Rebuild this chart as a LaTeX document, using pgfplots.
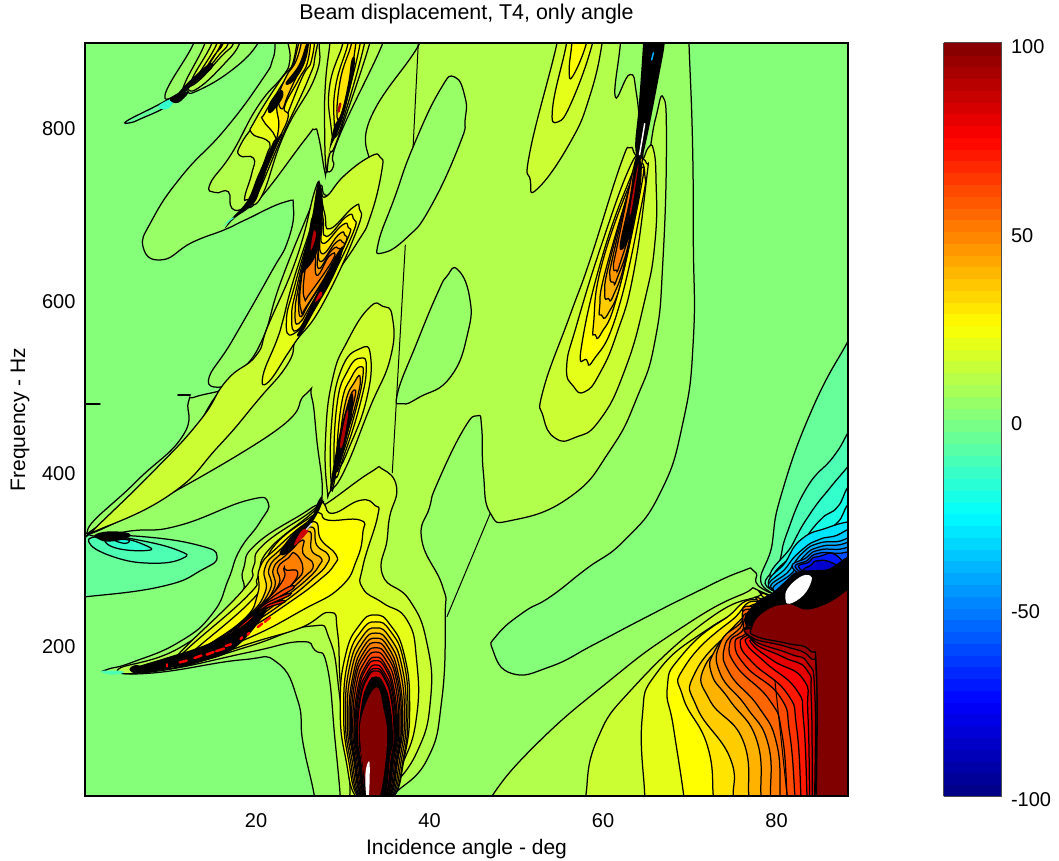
\documentclass[border=0pt]{standalone}
\usepackage{pgfplots}
\pgfplotsset{compat=1.18}
\usepackage{fontspec}
\setmainfont{Liberation Sans}
\definecolor{L0}{rgb}{.52,1,.48}\definecolor{L5}{rgb}{.6,1,.4}\definecolor{L10}{rgb}{.7,1,.3}\definecolor{L15}{rgb}{.8,1,.2}\definecolor{L20}{rgb}{.9,1,.1}
\definecolor{L25}{rgb}{1,1,0}\definecolor{L30}{rgb}{1,.9,0}\definecolor{L35}{rgb}{1,.8,0}\definecolor{L40}{rgb}{1,.7,0}\definecolor{L45}{rgb}{1,.6,0}
\definecolor{L50}{rgb}{1,.5,0}\definecolor{L55}{rgb}{1,.4,0}\definecolor{L60}{rgb}{1,.3,0}\definecolor{L65}{rgb}{1,.2,0}\definecolor{L70}{rgb}{1,.1,0}
\definecolor{L75}{rgb}{1,0,0}\definecolor{L80}{rgb}{.9,0,0}\definecolor{L85}{rgb}{.8,0,0}\definecolor{L90}{rgb}{.7,0,0}\definecolor{L95}{rgb}{.6,0,0}\definecolor{L100}{rgb}{.5,0,0}
\definecolor{Lm5}{rgb}{.4,1,.6}\definecolor{Lm10}{rgb}{.3,1,.7}\definecolor{Lm15}{rgb}{.2,1,.8}\definecolor{Lm20}{rgb}{.1,1,.9}\definecolor{Lm25}{rgb}{0,1,1}
\definecolor{Lm30}{rgb}{0,.9,1}\definecolor{Lm35}{rgb}{0,.8,1}\definecolor{Lm40}{rgb}{0,.7,1}\definecolor{Lm45}{rgb}{0,.6,1}\definecolor{Lm50}{rgb}{0,.5,1}
\definecolor{Lm60}{rgb}{0,.3,1}\definecolor{Lm70}{rgb}{0,.1,1}\definecolor{Lm85}{rgb}{0,0,.8}
\newcommand\CT[2]{\addplot[smooth cycle,tension=.85,fill=#1,draw=black,line width=1.25pt,forget plot] coordinates {#2};}
\newcommand\KT[2]{\addplot[smooth cycle,tension=.7,fill=#1,draw=none,forget plot] coordinates {#2};}
\newcommand\LN[3]{\addplot[sharp plot,draw=#1,line width=#2,line cap=round,forget plot] coordinates {#3};}
\begin{document}
\begin{tikzpicture}
\path[use as bounding box] (0,0) rectangle (1059pt,861pt);
\begin{axis}[at={(85pt,65pt)},anchor=south west,scale only axis,width=763pt,height=753pt,
 xmin=0.28,xmax=88.23,ymin=25,ymax=898.5,xtick={20,40,60,80},ytick={200,400,600,800},
 major tick length=0pt,axis line style={line width=1.2pt},axis on top,
 tick label style={font=\fontsize{20}{22}\selectfont},/pgf/number format/assume math mode=true,
 xlabel={Incidence angle - deg},ylabel={Frequency - Hz},title={Beam displacement, T4, only angle},
 label style={font=\fontsize{21}{24}\selectfont},title style={font=\fontsize{21.4}{24}\selectfont,at={(axis description cs:.5,1.04)},anchor=center,yshift=-7pt},
 xlabel style={at={(axis description cs:.5,-.071)},anchor=center},
 ylabel style={at={(axis description cs:-.085,.5)},anchor=center},
 xticklabel style={yshift=-14pt},yticklabel style={xshift=-6pt,yshift=-1pt},
 axis background/.style={fill=L0},
 colormap/jet,point meta min=-100,point meta max=100,colorbar sampled,
 colorbar style={samples=65,at={(parent axis.north east)},anchor=north west,xshift=87pt,scale only axis,width=58pt,height=753pt,
  major tick length=0pt,ytick={-100,-50,0,50,100},axis line style={line width=1pt,draw=black!70},
  yticklabel style={font=\fontsize{20}{22}\selectfont,xshift=6pt,yshift=-4pt},/pgf/number format/assume math mode=true},
]
% ---- level 5 region
\CT{L5}{(0.5,330)(6.0,388)(11.5,442)(12.2,482)(13.0,488)(16.4,498)(14.5,507)(17.3,554)(21.6,630)(23.7,670)(24.3,708)(23.3,714)(18.7,693)(16.4,682)(12.6,667)(9.2,647)(7.0,661)(8.0,693)(11.5,745)(16.4,798)(20.7,856)(21.9,879)(22.2,899)(22.2,925)(69.9,925)(69.9,899)(70.3,786)(70.4,670)(70.4,554)(69.2,458)(66.6,377)(62.5,322)(58,288)(53.9,256)(50.8,238)(47.8,212)(47.3,194)(49.5,167)(53.9,175)(59,201)(64.3,229)(70,258)(75.8,285)(77.5,285)(79.2,261)(89.6,229)(89.6,9)(26.7,9)(26.7,26)(25.4,87)(24.8,136)(22.4,180)(18.4,183)(8.4,168)(3.2,169)(2.9,172)(5.7,180)(11.2,204)(15.0,237)(16.8,276)(18.1,310)(20.4,342)(21.4,365)(19.0,368)(11.2,339)(6.0,333)}
% ---- level 10, centre
\CT{L10}{(35.8,9)(35.8,25)(39.7,67)(41.4,136)(41.8,233)(41.5,268)(39.1,322)(40,360)(40.9,388)(43.9,450)(45.5,466)(46.0,453)(46.2,400)(47.0,353)(49.6,345)(56.2,372)(60.8,426)(63.9,487)(66.0,554)(66.9,647)(67.3,786)(66.9,836)(66.0,809)(64.8,757)(63.9,836)(63.1,862)(61.4,836)(62.0,899)(62,925)(38.9,925)(38.9,899)(33.1,809)(32.8,748)(28.5,722)(27.4,733)(26.3,708)(22.8,620)(20.7,554)(18.1,516)(15.3,488)(9.8,400)(1.1,330)(20.7,438)(25.6,490)(26.4,488)(27.0,438)(27.6,372)(26.2,358)(20.1,318)(18.5,287)(17.8,252)(11.2,197)(4.1,172)(8.7,170)(19.3,192)(25.1,204)(26.8,194)(28.2,175)(29.1,90)(29.7,25)(29.7,9)}
% ---- level 10, upper left
\CT{L10}{(23.9,914)(34.6,914)(34.6,898)(29.5,788)(28.9,755)(28.1,749)(27.9,750)(27.2,790)(26.7,798)(25.6,786)(20.6,720)(18.7,707)(17.2,707)(16.8,726)(15.3,725)(14.7,735)(17.2,770.5)(20.2,825)(23,859)(24.3,879)(23.9,898)}
% ---- holes
\CT{L5}{(42.9,859)(44.1,835)(44.1,810)(43.5,782)(40.1,708)(37.4,673)(34.6,655)(34.1,667)(36,720)(38.1,778)(41.2,844)}
\CT{L5}{(43.2,636)(44.6,604)(44.4,562)(42.4,511)(38.9,488)(36.9,480)(36.3,492)(38.5,550)(40.9,608)(42,628)}
% ---- top centre lobes
\CT{L15}{(54.7,920)(54.7,899)(51.6,774)(51.6,740)(52.4,729)(56.2,783)(58.5,838)(59.9,899)(59.9,920)}
\CT{L20}{(55.8,920)(55.8,899)(54.2,825)(54.8,807)(56.5,833)(58.8,899)(58.8,920)}
\CT{L25}{(56.4,920)(56.4,899)(56.1,868)(56.5,860)(58.1,899)(58.1,920)}
% ---- lower right
\CT{L10}{(47.2,25)(52.4,86)(60.4,156)(68.1,214)(75.8,258)(79.2,258)(89.6,206)(89.6,9)(47.2,9)}
\CT{L15}{(58,25)(59.3,90)(63.5,151)(72,229)(77.7,256)(79.2,254)(89.6,194)(89.6,9)(58,9)}
\CT{L20}{(64.8,25)(64.5,115)(66.2,168)(72,218)(78.5,252)(79.2,251)(89.6,190)(89.6,9)(64.8,9)}
\CT{L25}{(69.3,25)(68.1,105)(67.4,151)(68.9,186)(73.8,229)(79.2,250)(89.6,190)(89.6,9)(69.3,9)}
\CT{L30}{(72.7,25)(72,84)(69.2,140)(69.4,175)(74.6,227)(79.2,248)(89.6,190)(89.6,9)(72.7,9)}
\CT{L35}{(75,25)(74.6,70)(70.8,128)(70.6,168)(75.2,220)(79.2,246)(89.6,190)(89.6,9)(75,9)}
\CT{L40}{(76.8,25)(76.1,90)(72.3,136)(71.7,175)(75.8,215)(79.2,243)(89.6,190)(89.6,9)(76.8,9)}
\CT{L45}{(78.2,26)(77.7,90)(74.6,136)(72.5,167)(72.9,194)(75.4,225)(77.7,245)(79,250)(89.6,190)(89.6,9)(78.2,9)}
\CT{L50}{(79.3,26)(79,86)(76.5,128.6)(73.5,167)(73.5,202)(75.8,225)(78,243)(89.6,190)(89.6,9)(79.3,9)}
\CT{L55}{(80.4,26)(80,86)(77.9,128.6)(74.6,167)(74,198)(75.8,220)(78,240)(89.6,190)(89.6,9)(80.4,9)}
\CT{L60}{(81.2,26)(80.6,98)(79.2,136)(75.4,175)(74.6,202)(76,216)(78,236)(89.6,190)(89.6,9)(81.2,9)}
\CT{L65}{(82.1,26)(81.5,98)(80.4,140)(76.5,175)(75.2,202)(76.5,214)(78,232)(89.6,190)(89.6,9)(82.1,9)}
\CT{L70}{(82.8,26)(82.3,105)(81.2,144)(77.3,179)(75.8,202)(76.9,214)(78,228)(89.6,190)(89.6,9)(82.8,9)}
\CT{L75}{(83.5,26)(83.1,113)(82.3,148)(78.8,179)(76.5,202)(77.1,212)(78,226)(89.6,190)(89.6,9)(83.5,9)}
\CT{L80}{(83.8,26)(83.6,121)(83.1,160)(79.6,182)(77.1,202)(77.5,210)(78,224)(89.6,190)(89.6,9)(83.8,9)}
\CT{L85}{(84.1,26)(84,136)(83.5,171)(80.8,186)(77.3,204)(78,222)(89.6,190)(89.6,9)(84.1,9)}
\CT{L90}{(84.4,26)(84.4,144)(83.6,179)(81.5,190)(77.3,206)(78,220)(89.6,190)(89.6,9)(84.4,9)}
\CT{L95}{(84.5,26)(84.6,160)(83.8,186)(81.2,198)(77.3,208)(78,218)(89.6,190)(89.6,9)(84.5,9)}
% ---- upper right negative fan
\CT{Lm5}{(79.2,262)(79.5,318)(80.7,380)(84.2,476)(88.2,552)(89.6,577)(89.6,258)}
\CT{Lm10}{(79.5,264)(80.4,299)(81.2,330)(83.5,383)(86.5,418)(88.2,446)(89.6,473)(89.6,258)}
\CT{Lm15}{(79.8,270)(81.9,318)(83.9,353)(86.2,383)(88.2,407)(89.6,426)(89.6,258)}
\CT{Lm20}{(80,270)(82.7,314)(85,345)(87,360)(88.2,383)(89.6,400)(89.6,258)}
\CT{Lm25}{(80.3,270)(83,310)(85,330)(87,342)(88.2,363)(89.6,380)(89.6,258)}
\CT{Lm30}{(79.8,264)(81.2,299)(83,324)(85.8,336)(88.2,343)(90,345)(90,252)}
\CT{Lm35}{(79.8,262)(81.2,291)(83.1,312)(84.8,322)(86.5,326)(90,330)(90,252)}
\CT{Lm40}{(80,262)(81.5,287)(83.1,308)(84.8,318)(86.9,320)(90,320)(90,252)}
\CT{Lm45}{(80.2,260)(81.9,285)(83.3,304.6)(84.8,313.5)(86.9,316)(90,314)(90,252)}
\CT{Lm50}{(82.3,285)(83.5,302)(84.8,310)(86.9,311)(90,308.4)(90,252)}
\CT{Lm60}{(82.7,285)(83.6,298.8)(84.8,306.5)(86.9,306.5)(90,302.6)(90,252)}
\CT{Lm70}{(83.1,285)(83.8,297)(84.8,302.6)(87.3,300.7)(90,252)}
\CT{Lm85}{(83.5,285)(84,293)(84.8,298)(86.5,295)(88.8,279)}
\KT{black}{(79.4,260)(81.2,276)(82.3,285)(84.2,287)(86.1,289)(88.25,303)(89.6,305)(89.6,264)(84.2,243)(81.2,248)(78.5,239)(77.3,222)(76.3,232)(77.9,252)}
\CT{L100}{(84.6,26)(84.6,167)(83.8,194)(81.2,202)(77.7,210)(77.1,220)(78.5,239)(81.2,248)(84.2,243)(88.3,266)(90,290)(90,10)(84.6,10)}
\KT{white}{(81,254)(81.3,266)(82.7,279)(83.8,281)(84,274)(83.1,258)(81.5,248)}
% ---- left negative blob
\CT{Lm5}{(.28,256)(9.1,268)(13.7,287)(15.5,303)(13.3,316)(6.8,326)(1.8,326)(-1,326)(-1,256)}
\CT{Lm10}{(.7,320)(3.4,303)(8,295)(11.6,301)(11,310)(6.4,322)(2.6,326)}
\CT{Lm15}{(2.6,322)(4.1,312)(7.6,310)(7.2,316)(4.5,324)}
\CT{Lm20}{(3.7,322)(4.9,318)(5.3,322)}
% ---- fan and ridge near 600 Hz
\CT{L15}{(1.2,333)(8.2,402)(13.5,460)(16.6,507)(20,536)(21.4,571)(24.7,650)(26.8,728)(27.4,732)(28,720)(30.2,745)(33.2,767)(34.3,766)(34.5,751)(33.2,698)(31.6,666)(27.8,610)(24.8,560)(23.7,527)(20.2,484)(15.7,431)(10,374)(1.2,331)}
\CT{L20}{(27.2,728)(26.8,701)(24.3,623)(23.1,577)(22.4,554)(20.8,513)(21.4,505)(23.7,539)(24.7,554)(27.7,596)(31.6,681)(31.9,706)(31.2,708)(28.5,683)(27.9,701)}
\CT{L25}{(27.2,724)(26.6,693)(24.5,619)(23.5,577)(24.3,561)(27,596)(31,674)(31.2,695)(30.4,697)(28.1,674)(27.7,697)}
\CT{L30}{(27.1,716)(26.4,685)(24.7,616)(24.1,581)(24.7,565)(26.6,596)(30.4,668)(30.6,685)(29.9,687)(27.7,666)(27.6,693)}
\CT{L35}{(26.8,705)(26.2,677)(24.9,616)(24.5,585)(24.9,573)(26.4,596)(30,660)(30.2,676)(29.5,676)(27.6,654)(27.3,685)}
\CT{L40}{(26.6,697)(26,670)(25.1,619)(24.9,596)(25.2,581)(26.2,598)(29.7,654)(29.9,668)(29.1,666)(27.4,645)(27.2,674)}
\CT{L45}{(26.4,685)(25.2,623)(25.2,588)(26,596)(29.3,650)(29.5,660)(28.7,658)(27.2,637)(27.1,666)}
\CT{L50}{(26.2,662)(25.5,623)(25.6,602)(26.2,608)(28.9,648)(28.4,651)(27,629)(26.8,658)}
\KT{black}{(27.2,738)(26.4,693)(25.4,639)(25.7,635)(27.1,658)(27.7,705)}
\KT{black}{(29.7,660)(28.5,639)(26.6,600)(25.2,569)(24.7,560)(25.2,561)(26.8,589)(28.9,627)(30,658)}
\KT{L90}{(26.6,679)(26.3,658)(26.8,670)(26.9,679)}
\KT{L85}{(27.4,610)(26.8,598)(27.6,606)}
% ---- upper ridge 2
\CT{L15}{(23.9,914)(27.3,914)(27.3,898)(26.8,859)(23.3,794)(20.6,720)(19.1,717)(18.7,720)(19.5,747)(19.7,765)(18.1,768)(18.3,782)(20.4,813)(23,857)(23.9,879)}
\CT{L20}{(24.9,914)(27,914)(26.8,883)(26,856)(23,790)(20.2,724)(19.7,722)(21.2,768)(21.6,778)(21.2,786)(19.5,794)(19.9,809)(22.7,854)(24.5,879)}
\CT{L25}{(25.2,914)(26.6,914)(26.4,879)(25.2,856)(22.6,790)(20,728)(21.8,778)(22.2,790)(20.8,809)(21,817)(22.6,844)(24.1,871)}
\CT{L30}{(25.4,914)(26.2,914)(26,879)(24.9,856)(23.3,825)(23.7,813)(22.6,786)(20.6,739.5)(21.8,770.5)(22.6,800)(22.4,825)(23,844)(24.1,867)}
\CT{L35}{(25.6,914)(26,914)(25.6,879)(24.5,856)(23.6,836)(23,822)(22.6,836)(23.5,860)(24.7,880)}
\KT{black}{(21.6,830)(22.8,844)(23.1,836)(22,820)(21.4,818)}
\KT{black}{(23.4,852)(24.9,873)(25.8,898)(26.1,898)(25.6,875)(24.3,854)}
\KT{black}{(22.6,790)(23,792)(21.8,768)(20.6,733)(19.7,712)(17.5,695)(16.4,683)(17.2,695)(19,716)(20.2,745)(21.6,775)}
\KT{Lm15}{(16.2,686)(17,694)(17.5,696)(16.6,689)}
% ---- ridge 3
\CT{L15}{(28.5,914)(28.5,898)(28,852)(27.9,800)(28.1,750)(28.5,770)(29.5,790)(33.1,898)(33.1,914)}
\CT{L20}{(30,914)(30,898)(28.5,850)(28.6,805)(29.2,790)(30.5,825)(32.5,898)(32.5,914)}
\CT{L25}{(30.6,914)(30.6,898)(29.2,850)(29,808)(29.4,800)(30.5,835)(32,898)(32,914)}
\CT{L30}{(31,914)(31,898)(29.7,855)(29.4,810)(30.5,840)(31.5,898)(31.5,914)}
\KT{black}{(30.6,852)(29.8,817)(28.9,798)(28.1,753)(28.5,775)(29.8,805)(31,852)(31.4,879)(31,879)}
\LN{L90}{2.5pt}{(29.7,828)(29.5,819)}
% ---- top left wedge
\CT{Lm5}{(5.1,808)(8,823)(11,838)(9.7,825)(6.8,811)(5.5,806)}
\CT{L5}{(12.8,898)(9.5,838)(11.8,843)(13,842)(17.2,867)(20.2,898)(20.2,914)(12.8,914)}
\CT{L10}{(14.1,898)(11.8,852)(12,846)(13.3,846)(16.4,875)(18.1,898)(18.1,914)(14.1,914)}
\CT{L15}{(14.9,898)(12.6,856)(13.3,854)(16,883)(17.4,898)(17.4,914)(14.9,914)}
\CT{L20}{(15.5,898)(13.1,857)(13.7,859)(15.6,883)(16.8,898)(16.8,914)(15.5,914)}
\CT{L30}{(16,898)(13.7,861)(15.1,883)(16.2,898)(16.2,914)(16,914)}
\KT{black}{(11.4,838)(13.3,856)(14.9,869)(14.7,875)(12.8,859)(11,840)}
\KT{Lm15}{(8.9,827)(10.5,834)(10,823)(9.1,822)}
\KT{black}{(10.1,834)(12.2,842)(11,829)}
% ---- ridge 5 near 450 Hz
\CT{L15}{(28.2,380)(28,438)(28.8,508)(30.6,554)(33.1,592)(34.6,593)(35.7,581)(35.5,534)(33.1,475)(30.3,405)(28.6,379)}
\CT{L20}{(28.7,384)(28.7,457)(29.8,519)(32,544)(33.2,535)(32.7,484)(30.6,426)(29.3,399)}
\CT{L25}{(29.1,399)(29.3,477)(30.6,519)(32.1,533)(32.7,521)(32,480)(30.2,422)}
\CT{L30}{(29.3,407)(29.8,477)(31,511)(32.1,523)(32.3,511)(31.6,477)(30,422)}
\CT{L40}{(29.5,415)(30.2,477)(31.4,506)(32,510)(31.6,484)(30,430)}
\CT{L50}{(29.7,422)(30.6,479)(31.4,496)(31.2,479)(30,438)}
\KT{black}{(28.5,380)(29.1,419)(29.8,453)(30.8,488)(31.2,488)(31,465)(30.2,430)(29.5,407)(28.9,388)}
\KT{L90}{(29.7,434)(30.4,469)(30.6,467)(30,433)}
% ---- ridge 7 at right
\CT{L15}{(53.1,465)(54.5,440)(56.8,441)(59.6,461)(62.5,519)(64.8,600)(66,670)(66.1,740)(65.8,775)(65.2,777)(64.5,763)(63.7,769)(63.1,777)(62,757)(58.5,647)(56.2,583)(53.1,496)}
\CT{L20}{(55.8,523)(56.6,500)(57.9,494)(59.6,515)(61.6,562)(63.5,631)(65,740)(65,759)(64.2,763)(63.1,755)(60,670)(57,573)}
\CT{L25}{(57.5,546)(58.1,531)(58.9,531)(61.6,585)(64.4,709)(64.8,747)(64.2,761)(63.5,751)(60,654)}
\CT{L30}{(58.9,573)(59.1,560)(59.8,562)(61.7,608)(64.4,732)(64.4,755)(63.9,755)(60,647)}
\CT{L35}{(59.6,592)(59.8,583)(60.6,585)(62.3,631)(64.2,740)(64,757)(60.4,639)}
\CT{L40}{(60.2,608)(60.6,602)(61.2,606)(62.7,654)(64,747)(63.8,756)(60.8,647)}
\CT{L45}{(60.8,627)(61.2,621)(61.6,625)(63.1,674)(63.9,747)(63.7,756)(61.2,654)}
\CT{L50}{(61.2,639)(61.5,635)(61.9,641)(63.3,693)(63.8,751)(63.6,757)(61.6,662)}
\KT{black}{(61.9,662)(63,716)(63.7,759)(64.4,759)(64.2,724)(63,672)}
\KT{L90}{(63.1,705)(63.9,751)(64,751)(63.3,705)}
\KT{black}{(63.7,778)(64.1,825)(64.6,898)(64.6,920)(67.1,920)(67.1,898)(66.5,863)(65,786)(64.3,763)}
\LN{Lm40}{1.5pt}{(65.6,879)(65.8,887)}
\LN{white}{1.5pt}{(64.8,805)(64.2,769)}
% ---- lower mass
\CT{L15}{(27.9,363)(33.1,400)(34.6,404)(36.2,383)(35.4,349)(35.1,322)(34.6,281)(37.7,252)(39.7,202)(40.1,136)(38.5,75)(35.1,26)(35.1,9)(30.8,9)(30.8,40)(29.7,136)(28.5,206)(26.2,222)(19.3,199)(10.1,173)(11.2,191)(18.5,264)(19.7,291)(20.8,316)(26.2,354)(27.6,368)}
\CT{L20}{(27.9,363)(28.9,353)(32,368)(33.7,362)(34,349)(32.3,291)(32.3,266)(34.6,249)(37.4,229)(38.5,183)(38.5,117)(36.9,63)(34.6,26)(34.6,9)(31.6,9)(31.6,26)(29.9,136)(29.4,214)(28.5,238)(25.1,220)(19.3,202)(11.2,175)(11.2,187)(18.9,256)(20.2,279)(21.4,310)(26.2,351)(27.6,365)}
\CT{L25}{(27.4,353)(28.3,345)(32,345)(32.3,330)(31.6,299)(29.7,267)(25.4,241)(19.3,209)(12.4,183)(12,186)(19.5,252)(20.8,279)(22,314)(26.2,348)}
\CT{L30}{(26.4,343)(27.5,322)(29.2,305)(29,293)(27.3,275.6)(23.9,250)(18.9,217.5)(13.5,190.5)(11.2,183)(13.5,194)(18.5,229)(20.2,260)(20.4,289)(22.3,312)}
\CT{L35}{(26.2,337)(27,316)(28.3,305)(28.1,293)(26.6,277.5)(23.5,252)(18.9,221)(13.9,192.4)(13.9,196)(18.5,229)(21,260)(21,289)(22.7,310)}
\CT{L40}{(26,332)(26.4,310)(27.5,301)(27.3,293)(26,277.5)(23.1,254)(18.9,223)(14.3,193.6)(14.3,197.4)(18.9,231)(21.6,264)(21.5,289)(23.1,308)}
\CT{L45}{(25.4,322)(25.4,306.5)(26.6,293)(25.4,277.5)(22.7,254)(18.9,225)(14.8,195)(14.8,198)(19.3,233)(22,264)(22,289)(23.5,305)}
\CT{L50}{(24.5,306.5)(25.4,289)(24.5,274)(22.3,256)(18.9,227)(15.4,197.4)(19.5,235)(22.5,268)(22.5,289)(23.7,301)}
\CT{L55}{(23.5,287)(24.8,285)(23.9,268)(21.6,250)(18.9,229)(16,200)(19.6,236)(22.9,272)(23.2,289)}
\CT{L60}{(24.3,266)(21.2,246.6)(18.5,225)(16.6,202)(19.8,237.6)(23.1,264)}
\CT{L65}{(23.9,258)(20.8,242.7)(18.1,221)(17,204)(20,239)(22.7,256)}
\CT{L70}{(23.3,250)(20.4,239)(17.7,217.5)(17.3,206)(20.4,239)(22.3,250)}
\KT{black}{(5.8,170)(6,174)(9.8,186)(13.8,199)(17.6,217)(20.4,238)(21,236)(17.6,197)(13.8,181)(9.8,173)(7.5,168)}
\KT{black}{(5.4,172)(6.2,177)(7.2,172)(6.2,167)}
\KT{black}{(22.7,306.5)(23.9,308)(25.4,326)(27.3,357)(27.6,372)(27.1,366)(26.4,349)(24.3,330)}
\KT{L85}{(24.5,316)(26,332)(25.4,334)(24.6,322)}
\LN{white!80!black}{1.5pt}{(25.8,334)(26.4,341)}
\LN{L75}{2.5pt}{(11.2,180)(12,182)}\LN{L75}{2.5pt}{(12.9,185)(13.7,188)}\LN{L75}{2.5pt}{(14.3,189)(15.1,192)}\LN{L75}{2.5pt}{(15.4,193)(16.3,196)}
\LN{L75}{2.5pt}{(16.5,199)(17.1,201)}\LN{L75}{2.5pt}{(18.2,207)(18.4,209)}\LN{L75}{2.5pt}{(19,212)(19.2,214)}\LN{L75}{2.5pt}{(20.2,221)(20.7,225)}\LN{L70}{2.5pt}{(21,227)(21.6,232)}
\LN{L75}{2pt}{(9.7,175)(9.7,178)}
% ---- lower peak domes
\CT{L25}{(31.9,20)(30.3,70)(29.7,129)(30.3,188)(31.9,223)(33.7,235)(35.5,223)(37.1,188)(37.7,129)(37.1,70)(35.5,20)}
\CT{L30}{(32.1,20)(30.6,70)(30.1,125)(30.6,182)(32.1,216)(33.8,227)(35.5,216)(37,182)(37.5,125)(37,70)(35.5,20)}
\CT{L35}{(32.2,20)(30.8,70)(30.3,121)(30.8,176)(32.2,209)(33.8,220)(35.4,209)(36.8,176)(37.3,121)(36.8,70)(35.4,20)}
\CT{L40}{(32.3,20)(31,70)(30.5,118)(31,171)(32.3,203)(33.8,214)(35.3,203)(36.6,171)(37.1,118)(36.6,70)(35.3,20)}
\CT{L45}{(32.4,20)(31.2,70)(30.7,114)(31.2,166)(32.4,198)(33.8,208)(35.2,198)(36.4,166)(36.9,114)(36.4,70)(35.2,20)}
\CT{L50}{(32.5,20)(31.3,70)(30.85,112)(31.3,162)(32.5,193)(33.8,203)(35.1,193)(36.3,162)(36.75,112)(36.3,70)(35.1,20)}
\CT{L55}{(32.5,20)(31.4,70)(31,108)(31.4,158)(32.5,187)(33.8,197)(35.1,187)(36.2,158)(36.6,108)(36.2,70)(35.1,20)}
\CT{L60}{(32.6,20)(31.55,70)(31.15,106)(31.55,154)(32.6,182)(33.8,192)(35,182)(36.05,154)(36.45,106)(36.05,70)(35,20)}
\CT{L65}{(32.7,20)(31.7,70)(31.3,102)(31.7,149)(32.7,177)(33.8,186)(34.9,177)(35.9,149)(36.3,102)(35.9,70)(34.9,20)}
\CT{L70}{(32.7,20)(31.8,70)(31.4,100)(31.8,146)(32.7,173)(33.8,182)(34.9,173)(35.8,146)(36.2,100)(35.8,70)(34.9,20)}
\CT{L75}{(32.8,20)(31.85,70)(31.5,97)(31.85,142)(32.8,168)(33.8,177)(34.8,168)(35.75,142)(36.1,97)(35.75,70)(34.8,20)}
\CT{L80}{(32.8,20)(31.95,70)(31.6,95)(31.95,138)(32.8,164)(33.8,173)(34.8,164)(35.65,138)(36,95)(35.65,70)(34.8,20)}
\CT{L85}{(32.85,20)(32,70)(31.7,93)(32,136)(32.85,162)(33.8,170)(34.75,162)(35.6,136)(35.9,93)(35.6,70)(34.75,20)}
\CT{black}{(32.95,20)(32.2,70)(31.9,90)(32.2,130)(32.95,155)(33.8,163)(34.65,155)(35.4,130)(35.7,90)(35.4,70)(34.65,20)}
\KT{L100}{(32.9,25)(32,90)(32.4,125)(33.9,151)(34.7,125)(35.1,90)(34.4,30)(33.6,20)}
\KT{white}{(32.7,26)(32.6,50)(32.9,64)(33.1,60)(33,26)}
% ---- small features and thin lines
\KT{Lm10}{(2.2,170)(3,166)(4.5,167)(4.5,170)}
\KT{black}{(1.4,328)(3,332)(5.3,330)(5.1,324)(3,320)(1.8,323)}
\LN{black}{1.6pt}{(.28,480)(2,480)}
\LN{black}{1.8pt}{(11,490)(12.4,490)}
\LN{black}{1pt}{(38.7,899)(38.1,778)}
\LN{black}{1pt}{(37.2,664)(35.7,400)}
\LN{black}{1pt}{(47,353)(42,233)}
\LN{black}{1pt}{(79.8,159)(81.2,26)}
\end{axis}
\end{tikzpicture}
\end{document}
